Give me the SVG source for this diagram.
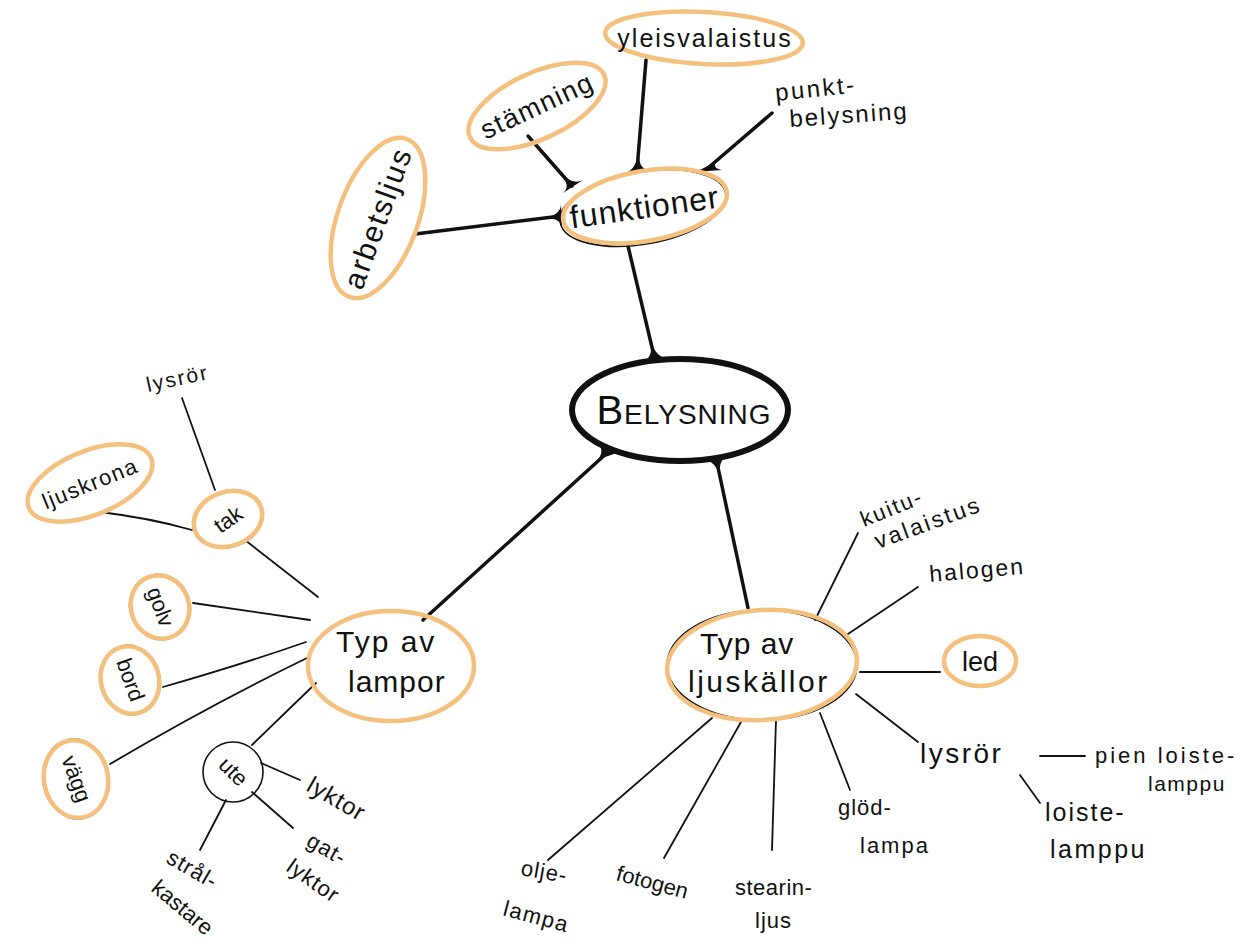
<svg xmlns="http://www.w3.org/2000/svg" width="1251" height="949" viewBox="0 0 1251 949">
<style>
.t{font-family:"Liberation Sans","DejaVu Sans",sans-serif;font-size:22px;fill:#111;}
.tb{font-family:"Liberation Sans","DejaVu Sans",sans-serif;font-size:30px;fill:#111;}
.or{fill:none;stroke:#f4c07e;stroke-width:4.5;}
.bk{fill:none;stroke:#111;stroke-width:1.6;}
.ln{fill:none;stroke:#111;stroke-width:1.8;stroke-linecap:round;}
.th{fill:none;stroke:#111;stroke-width:3.5;stroke-linecap:round;}
.fl{fill:#111;stroke:none;}
</style>
<rect width="1251" height="949" fill="#fff"/>
<g id="connectors">
  <!-- main -->
  <path class="th" d="M628,246 L655,360"/>
  <path class="fl" d="M639,363 Q655,360 650,338 Q655,360 673,359 Z"/>
  <path class="th" d="M423,620 L608,452"/>
  <path class="fl" d="M597,443 Q608,452 591,467 Q608,452 623,453 Z"/>
  <path class="th" d="M716,458 L748,608"/>
  <path class="fl" d="M699,460 Q716,458 721,480 Q716,458 731,455 Z"/>
  <!-- funktioner children -->
  <path class="th" d="M646,60 L637,170"/>
  <path class="fl" d="M625,173 Q637,170 639,148 Q637,170 650,170 Z"/>
  <path class="th" d="M528,136 L572,186"/>
  <path class="fl" d="M563,193 Q572,186 559,171 Q572,186 583,180 Z"/>
  <path class="th" d="M772,113 L708,168"/>
  <path class="fl" d="M694,172 Q708,168 722,155 Q708,168 722,170 Z"/>
  <path class="th" d="M415,234 L561,216"/>
  <path class="fl" d="M561,204 Q561,216 540,219 Q561,216 562,228 Z"/>
  <!-- lampor children -->
  <path class="ln" d="M182,398 L215,490"/>
  <path class="ln" d="M100,512 Q150,518 192,530"/>
  <path class="ln" d="M245,540 L318,597"/>
  <path class="ln" d="M193,603 L310,620"/>
  <path class="ln" d="M163,687 Q240,665 306,642"/>
  <path class="ln" d="M110,764 Q210,705 307,658"/>
  <path class="ln" d="M252,745 L316,683"/>
  <path class="ln" d="M261,763 L300,780"/>
  <path class="ln" d="M252,792 L293,828"/>
  <path class="ln" d="M226,800 L200,850"/>
  <!-- ljuskallor children -->
  <path class="ln" d="M858,533 L815,620"/>
  <path class="ln" d="M918,587 L845,636"/>
  <path class="th" style="stroke-width:2.2" d="M860,672 L940,672"/>
  <path class="ln" d="M856,694 L918,742"/>
  <path class="ln" d="M1040,756 L1085,756"/>
  <path class="ln" d="M1020,775 L1040,803"/>
  <path class="ln" d="M820,713 L850,790"/>
  <path class="ln" d="M776,720 L772,850"/>
  <path class="ln" d="M741,722 L664,858"/>
  <path class="ln" d="M712,718 L548,860"/>
</g>
<g id="belysning">
  <ellipse cx="680" cy="410" rx="108" ry="51" fill="#fff" stroke="#111" stroke-width="6"/>
  <text class="tb" x="684" y="424" text-anchor="middle" style="font-size:40px;font-variant:small-caps;letter-spacing:1px">Belysning</text>
</g>
<g id="funktioner">
  <ellipse cx="643" cy="208" rx="84" ry="36" transform="rotate(-10 643 208)" class="bk" fill="#fff"/>
  <ellipse cx="645" cy="206" rx="83" ry="35" transform="rotate(-10 645 206)" class="or"/>
  <text class="tb" x="645" y="218" text-anchor="middle" transform="rotate(-8 645 210)" style="font-size:32px;letter-spacing:1px">funktioner</text>
</g>
<g id="yleisvalaistus">
  <ellipse cx="704" cy="38" rx="99" ry="26" transform="rotate(3 704 38)" class="or"/>
  <text class="t" x="705" y="47" text-anchor="middle" style="font-size:25px;letter-spacing:2px">yleisvalaistus</text>
</g>
<g id="stamning">
  <ellipse cx="537" cy="106" rx="74" ry="33" transform="rotate(-25 537 106)" class="or"/>
  <text class="t" x="537" y="115" text-anchor="middle" transform="rotate(-25 537 106)" style="font-size:27px;letter-spacing:1.5px">stämning</text>
</g>
<g id="punkt">
  <text class="t" x="776" y="101" transform="rotate(-6 776 101)" style="font-size:24px;letter-spacing:2.5px">punkt-</text>
  <text class="t" x="790" y="127" transform="rotate(-4 790 127)" style="font-size:24px;letter-spacing:2px">belysning</text>
</g>
<g id="arbetsljus">
  <ellipse cx="378" cy="218" rx="40" ry="84" transform="rotate(20 378 218)" class="or"/>
  <text class="t" x="378" y="228" text-anchor="middle" transform="rotate(-70 378 218)" style="font-size:30px;letter-spacing:2px">arbetsljus</text>
</g>
<g id="typ-lampor">
  <ellipse cx="391" cy="666" rx="83" ry="55" fill="#fff" class="bk"/>
  <ellipse cx="391" cy="666" rx="83" ry="55" class="or"/>
  <text class="tb" x="336" y="652" style="letter-spacing:2px">Typ av</text>
  <text class="tb" x="348" y="692" style="letter-spacing:1px">lampor</text>
</g>
<g id="tak">
  <ellipse cx="228" cy="519" rx="36" ry="28" transform="rotate(-20 228 519)" fill="#fff" class="bk"/>
  <ellipse cx="228" cy="519" rx="35" ry="27" transform="rotate(-20 228 519)" class="or"/>
  <text class="t" x="228" y="527" text-anchor="middle" transform="rotate(-35 228 519)">tak</text>
</g>
<g id="lysror-tak">
  <text class="t" x="148" y="392" transform="rotate(-12 148 392)" style="font-size:21px;letter-spacing:2px">lysrör</text>
</g>
<g id="ljuskrona">
  <ellipse cx="90" cy="483" rx="66" ry="32" transform="rotate(-22 90 483)" class="or"/>
  <text class="t" x="90" y="491" text-anchor="middle" transform="rotate(-22 90 483)" style="letter-spacing:1.5px">ljuskrona</text>
</g>
<g id="golv">
  <ellipse cx="160" cy="607" rx="30" ry="33" transform="rotate(-20 160 607)" class="bk"/>
  <ellipse cx="160" cy="607" rx="29" ry="32" transform="rotate(-20 160 607)" class="or"/>
  <text class="t" x="160" y="614" text-anchor="middle" transform="rotate(70 160 607)">golv</text>
</g>
<g id="bord">
  <ellipse cx="130" cy="680" rx="30" ry="35" transform="rotate(-15 130 680)" class="bk"/>
  <ellipse cx="130" cy="680" rx="29" ry="34" transform="rotate(-15 130 680)" class="or"/>
  <text class="t" x="130" y="687" text-anchor="middle" transform="rotate(70 130 680)">bord</text>
</g>
<g id="vagg">
  <ellipse cx="76" cy="779" rx="33" ry="40" transform="rotate(-10 76 779)" class="bk"/>
  <ellipse cx="76" cy="779" rx="32" ry="39" transform="rotate(-10 76 779)" class="or"/>
  <text class="t" x="76" y="786" text-anchor="middle" transform="rotate(70 76 779)">vägg</text>
</g>
<g id="ute">
  <circle cx="233" cy="772" r="30" fill="#fff" class="bk"/>
  <text class="t" x="233" y="779" text-anchor="middle" transform="rotate(45 233 772)">ute</text>
</g>
<g id="lyktor">
  <text class="t" x="305" y="790" transform="rotate(30 305 790)" style="font-size:24px;letter-spacing:1px">lyktor</text>
</g>
<g id="gatlyktor">
  <text class="t" x="305" y="845" transform="rotate(30 305 845)" style="letter-spacing:1px">gat-</text>
  <text class="t" x="285" y="870" transform="rotate(35 285 870)" style="letter-spacing:1px">lyktor</text>
</g>
<g id="stralkastare">
  <text class="t" x="165" y="862" transform="rotate(30 165 862)" style="letter-spacing:1px">strål-</text>
  <text class="t" x="150" y="890" transform="rotate(40 150 890)">kastare</text>
</g>
<g id="typ-ljuskallor">
  <ellipse cx="762" cy="665" rx="95" ry="55" fill="#fff" class="bk"/>
  <ellipse cx="762" cy="665" rx="95" ry="55" transform="rotate(-4 762 665)" class="or"/>
  <text class="tb" x="700" y="654" style="letter-spacing:1px">Typ av</text>
  <text class="tb" x="688" y="692" style="letter-spacing:2.5px">ljuskällor</text>
</g>
<g id="kuitu">
  <text class="t" x="864" y="527" transform="rotate(-22 864 527)" style="font-size:22px;letter-spacing:2px">kuitu-</text>
  <text class="t" x="878" y="549" transform="rotate(-20 878 549)" style="font-size:23px;letter-spacing:2.5px">valaistus</text>
</g>
<g id="halogen">
  <text class="t" x="930" y="582" transform="rotate(-5 930 582)" style="font-size:23px;letter-spacing:2px">halogen</text>
</g>
<g id="led">
  <ellipse cx="980" cy="661" rx="36" ry="25" class="or"/>
  <text class="t" x="980" y="671" text-anchor="middle" style="font-size:27px">led</text>
</g>
<g id="lysror">
  <text class="t" x="920" y="763" style="font-size:28px;letter-spacing:2.5px">lysrör</text>
</g>
<g id="pienloistelamppu">
  <text class="t" x="1095" y="763" style="font-size:22px;letter-spacing:3px">pien loiste-</text>
  <text class="t" x="1148" y="791" style="font-size:21px;letter-spacing:1.5px">lamppu</text>
</g>
<g id="loistelamppu">
  <text class="t" x="1045" y="821" style="font-size:25px;letter-spacing:2px">loiste-</text>
  <text class="t" x="1050" y="858" style="font-size:25px;letter-spacing:2.5px">lamppu</text>
</g>
<g id="glodlampa">
  <text class="t" x="838" y="815" style="letter-spacing:1px">glöd-</text>
  <text class="t" x="860" y="853" style="letter-spacing:2px">lampa</text>
</g>
<g id="stearinljus">
  <text class="t" x="735" y="895" style="letter-spacing:0.5px">stearin-</text>
  <text class="t" x="755" y="928" style="letter-spacing:1px">ljus</text>
</g>
<g id="fotogen">
  <text class="t" x="615" y="880" transform="rotate(15 615 880)">fotogen</text>
</g>
<g id="oljelampa">
  <text class="t" x="520" y="875" transform="rotate(10 520 875)" style="letter-spacing:1px">olje-</text>
  <text class="t" x="502" y="915" transform="rotate(15 502 915)" style="letter-spacing:1.5px">lampa</text>
</g>
</svg>
